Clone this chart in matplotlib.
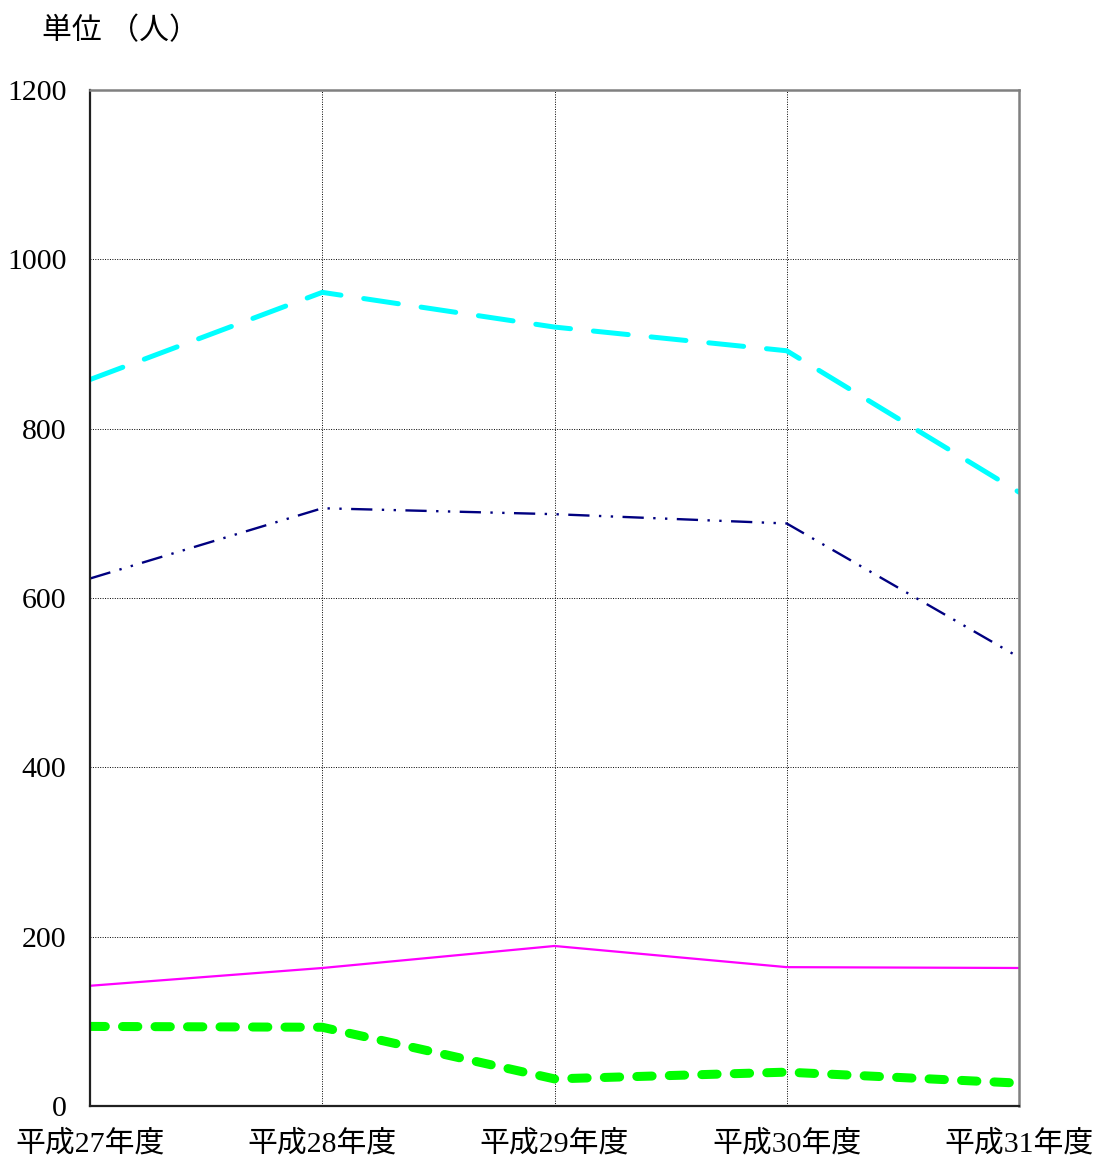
import matplotlib
matplotlib.use("Agg")
import matplotlib.pyplot as plt
import numpy as np

# data
years = ["平成27年度", "平成28年度", "平成29年度", "平成30年度", "平成31年度"]
cyan_vals = [858, 961, 920, 892, 725]
navy_vals = [623, 706, 699, 688, 530]
magenta_vals = [142, 163, 189, 164, 163]
green_vals = [94, 93, 32, 40, 27]
yticks = [0, 200, 400, 600, 800, 1000, 1200]

FONT = ["Liberation Serif", "Noto Sans CJK JP"]
plt.rcParams["font.family"] = FONT

fig = plt.figure(figsize=(10.96, 11.58), dpi=100)
ax = fig.add_axes([90 / 1096, 1 - 1106 / 1158, (1019 - 90) / 1096, (1106 - 90) / 1158])

x = np.arange(len(years))
ax.plot(x, cyan_vals, color="#00ffff", lw=3.6, dashes=(7, 4.6), dash_capstyle="round")
ax.plot(x, navy_vals, color="#000080", lw=1.7, dashes=(9, 4, 1, 4, 1, 4))
ax.plot(x, magenta_vals, color="#ff00ff", lw=1.6)
ax.plot(x, green_vals, color="#00ff00", lw=6.5, dashes=(1.7, 1.9), dash_capstyle="round")

ax.set_xlim(0, len(years) - 1)
ax.set_ylim(0, 1200)
ax.set_xticks(x)
ax.set_xticklabels(years)
ax.set_yticks(yticks)
ax.tick_params(axis="both", length=0, labelsize=21.5)
ax.tick_params(axis="x", pad=17)
ax.tick_params(axis="y", pad=17)
ax.grid(True, color="black", lw=0.7, linestyle=(0, (1, 1.5)))

for side in ("left", "bottom"):
    ax.spines[side].set_color("#202020")
    ax.spines[side].set_linewidth(1.6)
for side in ("top", "right"):
    ax.spines[side].set_color("#808080")
    ax.spines[side].set_linewidth(1.8)

fig.text(42 / 1096, 1 - 31 / 1158, "単位 （人）", fontsize=21.5, va="center", ha="left")

fig.savefig("out.png", dpi=100)
